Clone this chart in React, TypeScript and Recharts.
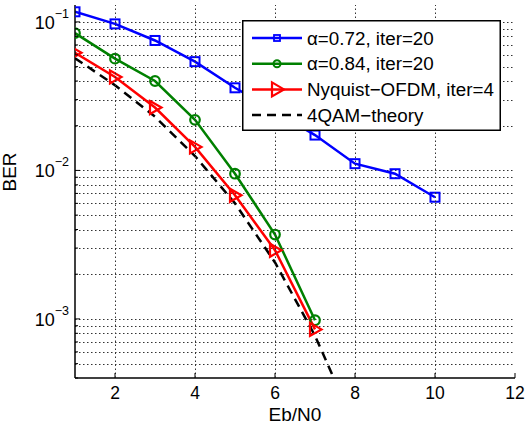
import React from 'react';
import { LineChart, Line, XAxis, YAxis, ReferenceLine, Legend } from 'recharts';

// Eb/N0 (dB) and BER values
const ebn0 = [1, 2, 3, 4, 5, 6, 7, 8, 9, 10];
const berAlpha072 = [0.117, 0.097, 0.075, 0.054, 0.036, 0.025, 0.0173, 0.0111, 0.0095, 0.0066];
const berAlpha084 = [0.084, 0.0566, 0.04, 0.0219, 0.0095, 0.0037, 0.00098];
const berNyquist = [0.062, 0.0426, 0.0265, 0.0144, 0.0068, 0.0029, 0.00085];
const berTheory = [0.057, 0.0375, 0.023, 0.0125, 0.006, 0.0024, 0.00077, 0.00019];

const xTicks = [2, 4, 6, 8, 10, 12];
const yMajorTicks = [1e-3, 1e-2, 1e-1];
const yMajorExps = ['\u22123', '\u22122', '\u22121'];
const yTicks = [
  4e-4, 5e-4, 6e-4, 7e-4, 8e-4, 9e-4,
  1e-3, 2e-3, 3e-3, 4e-3, 5e-3, 6e-3, 7e-3, 8e-3, 9e-3,
  1e-2, 2e-2, 3e-2, 4e-2, 5e-2, 6e-2, 7e-2, 8e-2, 9e-2,
  1e-1,
];
const yGrid = yTicks.slice(1);

const legendNames = ['\u03b1=0.72, iter=20', '\u03b1=0.84, iter=20', 'Nyquist\u2212OFDM, iter=4', '4QAM\u2212theory'];

const data = ebn0.map((x, i) => ({
  x,
  a072: berAlpha072[i] ?? null,
  a084: berAlpha084[i] ?? null,
  nyq: berNyquist[i] ?? null,
  theory: berTheory[i] ?? null,
}));

const FONT = '"Liberation Sans", Arial, Helvetica, sans-serif';
const CHART_W = 526;
const CHART_H = 425;
const MARGIN = { top: 5, right: 11, left: 0, bottom: 0 };
const X_AXIS_H = 47;
const PLOT_H = CHART_H - MARGIN.top - MARGIN.bottom - X_AXIS_H;

// dotted grid line snapped to the pixel grid so the dots stay crisp
const GridShape = (props: any) => {
  const { x1, y1, x2, y2 } = props;
  if ([x1, y1, x2, y2].some((v) => v == null || Number.isNaN(v))) return null;
  const sy1 = Math.round(y1) + 0.5;
  const sy2 = Math.round(y2) + 0.5;
  return <line x1={x1} y1={sy1} x2={x2} y2={sy2} stroke="#333" strokeWidth={1} strokeDasharray="1.5 2.5" />;
};

const majorIndex = (v: number) => yMajorTicks.findIndex((m) => Math.abs(m - v) / m < 1e-6);

const Square = (props: any) => {
  const { cx, cy, stroke } = props;
  if (cx == null || cy == null) return null;
  return <rect key={`s-${cx}`} x={cx - 4.5} y={cy - 4.5} width={9} height={9} fill="none" stroke={stroke} strokeWidth={2} />;
};

const Circle = (props: any) => {
  const { cx, cy, stroke } = props;
  if (cx == null || cy == null) return null;
  return <circle key={`c-${cx}`} cx={cx} cy={cy} r={4.8} fill="none" stroke={stroke} strokeWidth={2.2} />;
};

const Triangle = (props: any) => {
  const { cx, cy, stroke } = props;
  if (cx == null || cy == null) return null;
  return (
    <polygon
      key={`t-${cx}`}
      points={`${cx - 5},${cy - 6.5} ${cx + 6.5},${cy} ${cx - 5},${cy + 6.5}`}
      fill="none"
      stroke={stroke}
      strokeWidth={2.2}
    />
  );
};

// bottom tick: label, inward tick mark and the vertical dotted grid line
const BottomTick = (props: any) => {
  const { x, y, payload } = props;
  const gx = Math.round(x) + 0.5;
  return (
    <g>
      {payload.value !== 12 && (
        <line x1={gx} x2={gx} y1={y} y2={y - PLOT_H} stroke="#333" strokeWidth={1} strokeDasharray="1.5 2.5" />
      )}
      <line x1={x} x2={x} y1={y} y2={y - 5} stroke="#000" strokeWidth={1} />
      <text x={x} y={y + 21} textAnchor="middle" fontSize={17.5} fill="#000" fontFamily={FONT}>
        {payload.value}
      </text>
    </g>
  );
};

const TopTick = (props: any) => {
  const { x, y } = props;
  return <line x1={x} x2={x} y1={y} y2={y + 5} stroke="#000" strokeWidth={1} />;
};

const LeftTick = (props: any) => {
  const { x, y, payload } = props;
  const idx = majorIndex(payload.value);
  const len = idx >= 0 ? 5 : 3;
  return (
    <g>
      <line x1={x} x2={x + len} y1={y} y2={y} stroke="#000" strokeWidth={1} />
      {idx >= 0 && (
        <text x={x - 6} y={y + 7} textAnchor="end" fontSize={18} fill="#000" fontFamily={FONT}>
          10
          <tspan dy={-11} fontSize={12.5}>
            {yMajorExps[idx]}
          </tspan>
        </text>
      )}
    </g>
  );
};

const RightTick = (props: any) => {
  const { x, y, payload } = props;
  const len = majorIndex(payload.value) >= 0 ? 5 : 3;
  return <line x1={x} x2={x - len} y1={y} y2={y} stroke="#000" strokeWidth={1} />;
};

const legendStyles = [
  { color: '#0000ff', marker: 'square', dash: undefined },
  { color: '#008000', marker: 'circle', dash: undefined },
  { color: '#ff0000', marker: 'triangle', dash: undefined },
  { color: '#000000', marker: 'none', dash: '9 6' },
];

const renderLegend = () => (
  <svg width={259} height={111} style={{ display: 'block' }}>
    <rect x={0.75} y={0.75} width={257.5} height={109.5} fill="#fff" stroke="#000" strokeWidth={1.5} />
    {legendNames.map((name, i) => {
      const st = legendStyles[i];
      const cy = 18 + i * 25.7;
      const cx = 35;
      return (
        <g key={name}>
          <line x1={10} x2={60} y1={cy} y2={cy} stroke={st.color} strokeWidth={2.5} strokeDasharray={st.dash} />
          {st.marker === 'square' && (
            <rect x={cx - 3} y={cy - 3} width={6} height={6} fill="none" stroke={st.color} strokeWidth={1.8} />
          )}
          {st.marker === 'circle' && <circle cx={cx} cy={cy} r={3.5} fill="none" stroke={st.color} strokeWidth={2} />}
          {st.marker === 'triangle' && (
            <polygon
              points={`${cx - 5},${cy - 7} ${cx + 7},${cy} ${cx - 5},${cy + 7}`}
              fill="none"
              stroke={st.color}
              strokeWidth={2.2}
            />
          )}
          <text x={65} y={cy + 6.5} fontSize={18.8} fill="#000" fontFamily={FONT}>
            {name}
          </text>
        </g>
      );
    })}
  </svg>
);

export default function App() {
  return (
    <div style={{ position: 'absolute', left: 0, top: 0, width: CHART_W, height: CHART_H, background: '#fff' }}>
      <LineChart width={CHART_W} height={CHART_H} data={data} margin={MARGIN} style={{ fontFamily: FONT }}>
        <XAxis
          dataKey="x"
          type="number"
          domain={[1, 12]}
          ticks={xTicks}
          interval={0}
          allowDataOverflow
          height={X_AXIS_H}
          tickSize={0}
          tickMargin={0}
          tickLine={false}
          axisLine={{ stroke: '#000', strokeWidth: 1.5 }}
          tick={<BottomTick />}
          label={{ value: 'Eb/N0', position: 'insideBottom', offset: 4, fontSize: 19, fill: '#000', fontFamily: FONT }}
        />
        <XAxis
          xAxisId="top"
          orientation="top"
          dataKey="x"
          type="number"
          domain={[1, 12]}
          ticks={xTicks}
          interval={0}
          allowDataOverflow
          height={0}
          tickSize={0}
          tickMargin={0}
          tickLine={false}
          axisLine={{ stroke: '#000', strokeWidth: 1.5 }}
          tick={<TopTick />}
        />
        <YAxis
          type="number"
          scale="log"
          domain={[4e-4, 0.13]}
          ticks={yTicks}
          interval={0}
          allowDataOverflow
          width={75}
          tickSize={0}
          tickMargin={0}
          tickLine={false}
          axisLine={{ stroke: '#000', strokeWidth: 1.5 }}
          tick={<LeftTick />}
          label={{ value: 'BER', angle: -90, position: 'insideLeft', offset: 9, fontSize: 19, fill: '#000', fontFamily: FONT }}
        />
        <YAxis
          yAxisId="right"
          orientation="right"
          type="number"
          scale="log"
          domain={[4e-4, 0.13]}
          ticks={yTicks}
          interval={0}
          allowDataOverflow
          width={0}
          tickSize={0}
          tickMargin={0}
          tickLine={false}
          axisLine={{ stroke: '#000', strokeWidth: 1.5 }}
          tick={<RightTick />}
        />
        {yGrid.map((v) => (
          <ReferenceLine key={`gy-${v}`} y={v} shape={<GridShape />} />
        ))}
        <Line dataKey="a072" stroke="#0000ff" strokeWidth={2.5} dot={<Square />} isAnimationActive={false} />
        <Line dataKey="a084" stroke="#008000" strokeWidth={2.5} dot={<Circle />} isAnimationActive={false} />
        <Line dataKey="nyq" stroke="#ff0000" strokeWidth={2.5} dot={<Triangle />} isAnimationActive={false} />
        <Line
          dataKey="theory"
          stroke="#000"
          strokeWidth={2.5}
          strokeDasharray="9 6"
          dot={false}
          isAnimationActive={false}
        />
        <Legend
          layout="vertical"
          align="center"
          verticalAlign="middle"
          wrapperStyle={{ left: 242, top: 20, width: 259, height: 111 }}
          content={renderLegend}
        />
      </LineChart>
    </div>
  );
}
